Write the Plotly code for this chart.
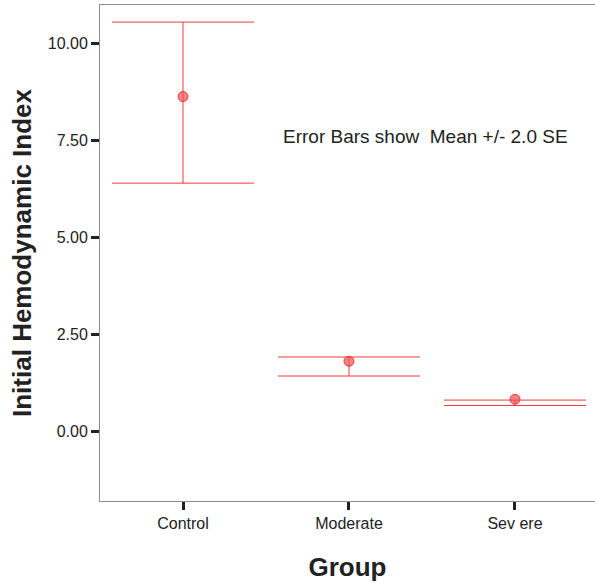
import plotly.graph_objects as go

groups = ["Control", "Moderate", "Severe"]
group_labels = ["Control", "Moderate", "Sev ere"]
means = [8.62, 1.80, 0.82]
upper = [10.54, 1.91, 0.80]
lower = [6.39, 1.42, 0.66]
y_ticks = [0.0, 2.5, 5.0, 7.5, 10.0]

centers = [(u + l) / 2 for u, l in zip(upper, lower)]
halves = [(u - l) / 2 for u, l in zip(upper, lower)]

red = "rgba(238,50,50,0.95)"
fig = go.Figure()
fig.add_trace(go.Scatter(
    x=groups, y=centers, mode="markers",
    marker=dict(size=1, color="rgba(0,0,0,0)"),
    error_y=dict(type="data", array=halves, symmetric=True, color=red,
                 thickness=1, width=71),
    hoverinfo="skip", showlegend=False))
fig.add_trace(go.Scatter(
    x=groups, y=means, mode="markers",
    marker=dict(size=10, color="rgba(240,80,80,0.7)",
                line=dict(color="rgba(235,50,50,0.9)", width=1)),
    showlegend=False))

fig.add_annotation(x=0.59, y=7.6, xref="x", yref="y", xanchor="left", yanchor="middle",
                   text="Error Bars show  Mean +/- 2.0 SE", showarrow=False,
                   font=dict(family="Liberation Sans, Arial", size=19, color="#222"))

fig.update_layout(
    width=595, height=583,
    margin=dict(l=100, r=0, t=5, b=82),
    paper_bgcolor="white", plot_bgcolor="white",
    font=dict(family="Liberation Sans, Arial", color="#222"),
    xaxis=dict(type="category", categoryorder="array", categoryarray=groups,
               range=[-0.5, 2.482], tickvals=groups, ticktext=group_labels,
               showline=True, linecolor="#8c8c8c", linewidth=1, mirror=True,
               ticks="outside", ticklen=8, tickwidth=3, tickcolor="#222",
               tickfont=dict(size=16), showgrid=False, zeroline=False,
               title=dict(text="<b>Group</b>", font=dict(size=26), standoff=26)),
    yaxis=dict(range=[-1.8, 10.98], tickvals=y_ticks, tickformat=".2f",
               showline=True, linecolor="#8c8c8c", linewidth=1,
               ticks="outside", ticklen=8, tickwidth=3, tickcolor="#222",
               tickfont=dict(size=16), showgrid=False, zeroline=False,
               title=dict(text="<b>Initial Hemodynamic Index</b>", font=dict(size=26), standoff=8)),
)
fig.write_html("out.html")
